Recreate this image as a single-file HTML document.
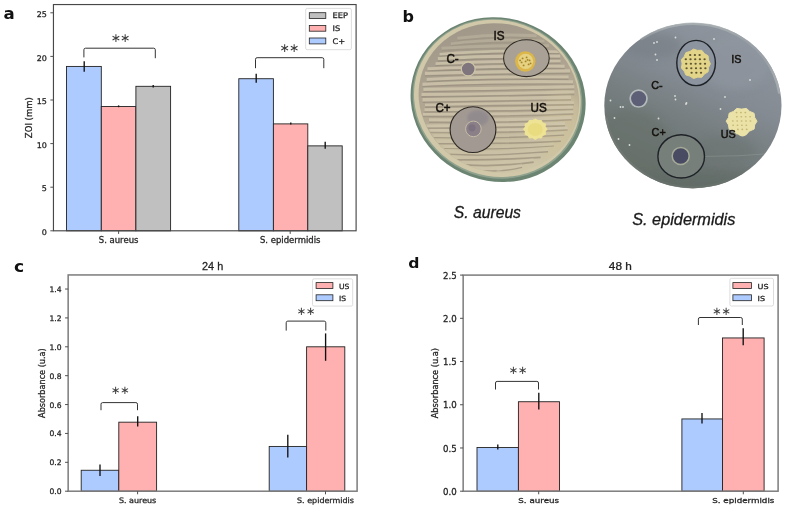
<!DOCTYPE html>
<html lang="en"><head><meta charset="utf-8"><title>Figure</title>
<style>
html,body{margin:0;padding:0;background:#fff;}
body{width:789px;height:512px;overflow:hidden;}
svg{display:block;}
.dv{font-family:"DejaVu Sans","Liberation Sans",sans-serif;fill:#262626;stroke:#262626;stroke-width:0.28px;}
.ls{font-family:"Liberation Sans","DejaVu Sans",sans-serif;fill:#222;stroke:#222;stroke-width:0.25px;}
.star{font-family:"DejaVu Sans","Liberation Sans",sans-serif;}
.pl{font-family:"DejaVu Sans","Liberation Sans",sans-serif;font-weight:bold;fill:#111;}
.dl{font-family:"Liberation Sans","DejaVu Sans",sans-serif;fill:#15120e;stroke:#15120e;stroke-width:0.5px;}
.it{font-family:"Liberation Sans","DejaVu Sans",sans-serif;font-style:italic;fill:#1a1a1a;stroke:#1a1a1a;stroke-width:0.3px;}
</style></head><body>
<svg width="789" height="512" viewBox="0 0 789 512">
<rect width="789" height="512" fill="#fff"/>

<rect x="66.50" y="66.43" width="34.80" height="164.37" fill="#aecbff" stroke="#222" stroke-width="0.9"/>
<rect x="101.30" y="106.45" width="34.60" height="124.35" fill="#ffb0b0" stroke="#222" stroke-width="0.9"/>
<rect x="135.90" y="86.31" width="34.70" height="144.49" fill="#c0c0c0" stroke="#222" stroke-width="0.9"/>
<rect x="238.80" y="78.72" width="34.60" height="152.08" fill="#aecbff" stroke="#222" stroke-width="0.9"/>
<rect x="273.40" y="123.89" width="34.40" height="106.91" fill="#ffb0b0" stroke="#222" stroke-width="0.9"/>
<rect x="307.80" y="145.87" width="34.40" height="84.93" fill="#c0c0c0" stroke="#222" stroke-width="0.9"/>
<line x1="84.20" x2="84.20" y1="61.20" y2="71.80" stroke="#111" stroke-width="1.35"/>
<line x1="118.60" x2="118.60" y1="105.40" y2="107.20" stroke="#111" stroke-width="1.35"/>
<line x1="153.20" x2="153.20" y1="85.00" y2="87.50" stroke="#111" stroke-width="1.35"/>
<line x1="256.20" x2="256.20" y1="73.70" y2="82.70" stroke="#111" stroke-width="1.35"/>
<line x1="290.80" x2="290.80" y1="122.60" y2="124.60" stroke="#111" stroke-width="1.35"/>
<line x1="325.20" x2="325.20" y1="141.80" y2="148.80" stroke="#111" stroke-width="1.35"/>
<rect x="53.45" y="4.55" width="302.65" height="226.25" fill="none" stroke="#484848" stroke-width="1.15"/>
<line x1="50.35" x2="53.45" y1="230.80" y2="230.80" stroke="#505050" stroke-width="1"/>
<text transform="translate(46.85,234.95) scale(1.03,1)" font-size="7.8" text-anchor="end" class="dv">0</text>
<line x1="50.35" x2="53.45" y1="187.20" y2="187.20" stroke="#505050" stroke-width="1"/>
<text transform="translate(46.85,191.35) scale(1.03,1)" font-size="7.8" text-anchor="end" class="dv">5</text>
<line x1="50.35" x2="53.45" y1="143.60" y2="143.60" stroke="#505050" stroke-width="1"/>
<text transform="translate(46.85,147.75) scale(1.03,1)" font-size="7.8" text-anchor="end" class="dv">10</text>
<line x1="50.35" x2="53.45" y1="100.00" y2="100.00" stroke="#505050" stroke-width="1"/>
<text transform="translate(46.85,104.15) scale(1.03,1)" font-size="7.8" text-anchor="end" class="dv">15</text>
<line x1="50.35" x2="53.45" y1="56.40" y2="56.40" stroke="#505050" stroke-width="1"/>
<text transform="translate(46.85,60.55) scale(1.03,1)" font-size="7.8" text-anchor="end" class="dv">20</text>
<line x1="50.35" x2="53.45" y1="12.80" y2="12.80" stroke="#505050" stroke-width="1"/>
<text transform="translate(46.85,16.95) scale(1.03,1)" font-size="7.8" text-anchor="end" class="dv">25</text>
<line x1="118.60" x2="118.60" y1="230.80" y2="233.90" stroke="#505050" stroke-width="1"/>
<text transform="translate(118.60,243.46) scale(1.075,1)" font-size="7.9" text-anchor="middle" class="dv">S. aureus</text>
<line x1="290.20" x2="290.20" y1="230.80" y2="233.90" stroke="#505050" stroke-width="1"/>
<text transform="translate(290.20,243.46) scale(1.075,1)" font-size="7.9" text-anchor="middle" class="dv">S. epidermidis</text>
<text transform="translate(31.60,117.68) rotate(-90) scale(1,1.0)" font-size="8.5" text-anchor="middle" class="dv">ZOI (mm)</text>
<path d="M83.90,57.40 V49.80 Q83.90,48.20 85.50,48.20 H153.70 Q155.30,48.20 155.30,49.80 V58.20" fill="none" stroke="#333" stroke-width="1"/>
<text x="115.75 125.05" y="41.95" font-size="12.4" text-anchor="middle" class="star" fill="#3c3c3c">∗∗</text>
<path d="M255.50,68.20 V59.30 Q255.50,57.70 257.10,57.70 H322.20 Q323.80,57.70 323.80,59.30 V68.20" fill="none" stroke="#333" stroke-width="1"/>
<text x="284.55 293.85" y="51.95" font-size="12.4" text-anchor="middle" class="star" fill="#3c3c3c">∗∗</text>
<rect x="305.70" y="8.40" width="45.70" height="41.30" rx="1.6" fill="#fff" fill-opacity="0.8" stroke="#d4d4d4" stroke-width="0.8"/>
<rect x="309.30" y="12.70" width="16.50" height="5.80" fill="#c0c0c0" stroke="#222" stroke-width="0.8"/>
<text transform="translate(332.60,18.41) scale(1.075,1)" font-size="7.7" class="dv">EEP</text>
<rect x="309.30" y="25.40" width="16.50" height="5.80" fill="#ffb0b0" stroke="#222" stroke-width="0.8"/>
<text transform="translate(332.60,31.11) scale(1.075,1)" font-size="7.7" class="dv">IS</text>
<rect x="309.30" y="38.00" width="16.50" height="5.90" fill="#aecbff" stroke="#222" stroke-width="0.8"/>
<text transform="translate(332.60,43.76) scale(1.075,1)" font-size="7.7" class="dv">C+</text>
<text x="3.6" y="19.4" font-size="16.6" class="pl">a</text>
<rect x="81.20" y="470.26" width="37.60" height="20.94" fill="#aecbff" stroke="#222" stroke-width="0.9"/>
<rect x="118.80" y="422.18" width="37.80" height="69.02" fill="#ffb0b0" stroke="#222" stroke-width="0.9"/>
<rect x="269.20" y="446.44" width="37.40" height="44.76" fill="#aecbff" stroke="#222" stroke-width="0.9"/>
<rect x="306.60" y="346.80" width="38.20" height="144.40" fill="#ffb0b0" stroke="#222" stroke-width="0.9"/>
<line x1="100.00" x2="100.00" y1="464.50" y2="475.90" stroke="#111" stroke-width="1.35"/>
<line x1="137.70" x2="137.70" y1="416.30" y2="426.40" stroke="#111" stroke-width="1.35"/>
<line x1="287.80" x2="287.80" y1="434.80" y2="457.40" stroke="#111" stroke-width="1.35"/>
<line x1="325.60" x2="325.60" y1="333.40" y2="360.80" stroke="#111" stroke-width="1.35"/>
<rect x="68.15" y="274.95" width="288.95" height="216.25" fill="none" stroke="#7c7c7c" stroke-width="1.5"/>
<line x1="65.05" x2="68.15" y1="491.20" y2="491.20" stroke="#505050" stroke-width="1"/>
<text x="61.55" y="494.17" font-size="7.6" text-anchor="end" class="dv">0.0</text>
<line x1="65.05" x2="68.15" y1="462.32" y2="462.32" stroke="#505050" stroke-width="1"/>
<text x="61.55" y="465.29" font-size="7.6" text-anchor="end" class="dv">0.2</text>
<line x1="65.05" x2="68.15" y1="433.44" y2="433.44" stroke="#505050" stroke-width="1"/>
<text x="61.55" y="436.41" font-size="7.6" text-anchor="end" class="dv">0.4</text>
<line x1="65.05" x2="68.15" y1="404.56" y2="404.56" stroke="#505050" stroke-width="1"/>
<text x="61.55" y="407.53" font-size="7.6" text-anchor="end" class="dv">0.6</text>
<line x1="65.05" x2="68.15" y1="375.68" y2="375.68" stroke="#505050" stroke-width="1"/>
<text x="61.55" y="378.65" font-size="7.6" text-anchor="end" class="dv">0.8</text>
<line x1="65.05" x2="68.15" y1="346.80" y2="346.80" stroke="#505050" stroke-width="1"/>
<text x="61.55" y="349.77" font-size="7.6" text-anchor="end" class="dv">1.0</text>
<line x1="65.05" x2="68.15" y1="317.92" y2="317.92" stroke="#505050" stroke-width="1"/>
<text x="61.55" y="320.89" font-size="7.6" text-anchor="end" class="dv">1.2</text>
<line x1="65.05" x2="68.15" y1="289.04" y2="289.04" stroke="#505050" stroke-width="1"/>
<text x="61.55" y="292.01" font-size="7.6" text-anchor="end" class="dv">1.4</text>
<line x1="137.60" x2="137.60" y1="491.20" y2="494.30" stroke="#505050" stroke-width="1"/>
<text transform="translate(137.60,503.49) scale(1.06,1)" font-size="7.55" text-anchor="middle" class="dv">S. aureus</text>
<line x1="325.50" x2="325.50" y1="491.20" y2="494.30" stroke="#505050" stroke-width="1"/>
<text transform="translate(325.50,503.49) scale(1.06,1)" font-size="7.55" text-anchor="middle" class="dv">S. epidermidis</text>
<text transform="translate(45.00,383.07) rotate(-90) scale(1,1.0)" font-size="8.15" text-anchor="middle" class="dv">Absorbance (u.a)</text>
<text transform="translate(212.60,270.00) scale(1.09,1)" font-size="10" text-anchor="middle" class="ls">24 h</text>
<path d="M101.00,410.20 V404.20 Q101.00,402.60 102.60,402.60 H135.90 Q137.50,402.60 137.50,404.20 V410.20" fill="none" stroke="#333" stroke-width="1"/>
<text x="115.75 125.05" y="394.29" font-size="11.6" text-anchor="middle" class="star" fill="#3c3c3c">∗∗</text>
<path d="M286.20,330.60 V322.70 Q286.20,321.10 287.80,321.10 H324.20 Q325.80,321.10 325.80,322.70 V330.60" fill="none" stroke="#333" stroke-width="1"/>
<text x="301.55 310.85" y="315.29" font-size="11.6" text-anchor="middle" class="star" fill="#3c3c3c">∗∗</text>
<rect x="312.50" y="278.80" width="40.20" height="27.30" rx="1.6" fill="#fff" fill-opacity="0.8" stroke="#d4d4d4" stroke-width="0.8"/>
<rect x="316.10" y="282.60" width="16.80" height="5.90" fill="#ffb0b0" stroke="#222" stroke-width="0.8"/>
<text transform="translate(339.00,288.78) scale(1.06,1)" font-size="7.2" class="dv">US</text>
<rect x="316.10" y="294.80" width="16.80" height="5.90" fill="#aecbff" stroke="#222" stroke-width="0.8"/>
<text transform="translate(339.00,300.98) scale(1.06,1)" font-size="7.2" class="dv">IS</text>
<text transform="translate(14.00,271.60) scale(1.08,1)" font-size="15.9" class="pl">c</text>
<rect x="477.00" y="447.46" width="41.40" height="43.74" fill="#aecbff" stroke="#222" stroke-width="0.9"/>
<rect x="518.40" y="401.73" width="41.10" height="89.47" fill="#ffb0b0" stroke="#222" stroke-width="0.9"/>
<rect x="681.90" y="418.94" width="40.60" height="72.26" fill="#aecbff" stroke="#222" stroke-width="0.9"/>
<rect x="722.50" y="337.94" width="41.60" height="153.26" fill="#ffb0b0" stroke="#222" stroke-width="0.9"/>
<line x1="497.80" x2="497.80" y1="444.40" y2="449.50" stroke="#111" stroke-width="1.35"/>
<line x1="538.80" x2="538.80" y1="392.70" y2="409.40" stroke="#111" stroke-width="1.35"/>
<line x1="702.00" x2="702.00" y1="413.00" y2="423.40" stroke="#111" stroke-width="1.35"/>
<line x1="743.20" x2="743.20" y1="328.30" y2="345.30" stroke="#111" stroke-width="1.35"/>
<rect x="463.15" y="275.10" width="314.95" height="216.10" fill="none" stroke="#7c7c7c" stroke-width="1.5"/>
<line x1="460.05" x2="463.15" y1="491.20" y2="491.20" stroke="#505050" stroke-width="1"/>
<text transform="translate(456.75,494.78) scale(1.09,1)" font-size="7.9" text-anchor="end" class="dv">0.0</text>
<line x1="460.05" x2="463.15" y1="447.98" y2="447.98" stroke="#505050" stroke-width="1"/>
<text transform="translate(456.75,451.56) scale(1.09,1)" font-size="7.9" text-anchor="end" class="dv">0.5</text>
<line x1="460.05" x2="463.15" y1="404.76" y2="404.76" stroke="#505050" stroke-width="1"/>
<text transform="translate(456.75,408.34) scale(1.09,1)" font-size="7.9" text-anchor="end" class="dv">1.0</text>
<line x1="460.05" x2="463.15" y1="361.54" y2="361.54" stroke="#505050" stroke-width="1"/>
<text transform="translate(456.75,365.12) scale(1.09,1)" font-size="7.9" text-anchor="end" class="dv">1.5</text>
<line x1="460.05" x2="463.15" y1="318.32" y2="318.32" stroke="#505050" stroke-width="1"/>
<text transform="translate(456.75,321.90) scale(1.09,1)" font-size="7.9" text-anchor="end" class="dv">2.0</text>
<line x1="460.05" x2="463.15" y1="275.10" y2="275.10" stroke="#505050" stroke-width="1"/>
<text transform="translate(456.75,278.68) scale(1.09,1)" font-size="7.9" text-anchor="end" class="dv">2.5</text>
<line x1="538.70" x2="538.70" y1="491.20" y2="494.30" stroke="#505050" stroke-width="1"/>
<text transform="translate(538.70,503.25) scale(1.165,1)" font-size="7.5" text-anchor="middle" class="dv">S. aureus</text>
<line x1="743.30" x2="743.30" y1="491.20" y2="494.30" stroke="#505050" stroke-width="1"/>
<text transform="translate(743.30,503.25) scale(1.165,1)" font-size="7.5" text-anchor="middle" class="dv">S. epidermidis</text>
<text transform="translate(437.60,383.15) rotate(-90) scale(1,1.09)" font-size="8.2" text-anchor="middle" class="dv">Absorbance (u.a)</text>
<text transform="translate(620.30,269.80) scale(1.18,1)" font-size="10" text-anchor="middle" class="ls">48 h</text>
<path d="M495.50,389.50 V383.00 Q495.50,381.40 497.10,381.40 H536.90 Q538.50,381.40 538.50,383.00 V389.50" fill="none" stroke="#333" stroke-width="1"/>
<text x="513.65 522.95" y="374.29" font-size="11.6" text-anchor="middle" class="star" fill="#3c3c3c">∗∗</text>
<path d="M698.40,325.00 V319.10 Q698.40,317.50 700.00,317.50 H740.70 Q742.30,317.50 742.30,319.10 V325.00" fill="none" stroke="#333" stroke-width="1"/>
<text x="717.15 726.45" y="315.29" font-size="11.6" text-anchor="middle" class="star" fill="#3c3c3c">∗∗</text>
<rect x="729.90" y="278.30" width="43.60" height="27.70" rx="1.6" fill="#fff" fill-opacity="0.8" stroke="#d4d4d4" stroke-width="0.8"/>
<rect x="732.90" y="282.60" width="18.50" height="5.90" fill="#ffb0b0" stroke="#222" stroke-width="0.8"/>
<text transform="translate(757.50,288.69) scale(1.165,1)" font-size="6.95" class="dv">US</text>
<rect x="732.90" y="294.80" width="18.50" height="5.90" fill="#aecbff" stroke="#222" stroke-width="0.8"/>
<text transform="translate(757.50,300.89) scale(1.165,1)" font-size="6.95" class="dv">IS</text>
<text transform="translate(408.20,268.10) scale(1.05,1)" font-size="14.9" class="pl">d</text>
<text x="402.6" y="21.5" font-size="16" class="pl">b</text>
<defs>
<filter id="b1" x="-10%" y="-10%" width="120%" height="120%"><feGaussianBlur stdDeviation="0.6"/></filter>
<filter id="b2" x="-20%" y="-20%" width="140%" height="140%"><feGaussianBlur stdDeviation="1.4"/></filter>
<filter id="b4" x="-30%" y="-30%" width="160%" height="160%"><feGaussianBlur stdDeviation="4"/></filter>
<clipPath id="clipL"><ellipse cx="498.3" cy="98" rx="80.4" ry="73.6" transform="rotate(20 498.1 99.6)"/></clipPath>
<clipPath id="clipR"><ellipse cx="692.9" cy="105.6" rx="88.6" ry="82.6"/></clipPath>
<linearGradient id="gL" gradientUnits="userSpaceOnUse" x1="480" y1="25" x2="515" y2="174" gradientTransform="rotate(-20 498.1 99.6)">
 <stop offset="0" stop-color="#a1988a"/><stop offset="0.3" stop-color="#aba18f"/><stop offset="0.6" stop-color="#b7ac95"/><stop offset="0.8" stop-color="#c5bb9e"/><stop offset="1" stop-color="#cfc6a8"/>
</linearGradient>
<linearGradient id="gR" x1="0.78" y1="0.02" x2="0.3" y2="1">
 <stop offset="0" stop-color="#8f969f"/><stop offset="0.38" stop-color="#848b93"/><stop offset="0.62" stop-color="#757d7e"/><stop offset="1" stop-color="#636b67"/>
</linearGradient>
</defs>
<g filter="url(#b1)">
<ellipse cx="498.1" cy="99.6" rx="88.3" ry="81.6" transform="rotate(20 498.1 99.6)" fill="#6c8573"/>
<ellipse cx="497.20000000000005" cy="99.0" rx="85.5" ry="79.2" transform="rotate(20 498.1 99.6)" fill="#8fa28e"/>
<ellipse cx="497.0" cy="98.69999999999999" rx="84.1" ry="77.8" transform="rotate(20 498.1 99.6)" fill="#d0c8a8"/>
<ellipse cx="498.3" cy="98.0" rx="81" ry="74.2" transform="rotate(20 498.1 99.6)" fill="url(#gL)"/>
</g>
<g clip-path="url(#clipL)">
<ellipse cx="562" cy="128" rx="22" ry="40" fill="#d0c49c" opacity="0.55" filter="url(#b4)"/>
<ellipse cx="440" cy="150" rx="20" ry="26" fill="#d2c9a8" opacity="0.5" filter="url(#b4)"/>
</g>
<g clip-path="url(#clipL)" filter="url(#b1)">
<path d="M457.4,38.3 Q497.2,33.4 536.6,35.8" stroke="#cfc5ad" stroke-opacity="0.35" stroke-width="3.07" fill="none"/>
<path d="M457.4,40.6 Q497.2,35.7 536.6,38.1" stroke="#8f8675" stroke-opacity="0.25" stroke-width="1.31" fill="none"/>
<path d="M450.8,43.7 Q492.9,38.3 544.4,41.2" stroke="#cfc5ad" stroke-opacity="0.35" stroke-width="2.67" fill="none"/>
<path d="M450.8,46.0 Q492.9,40.6 544.4,43.5" stroke="#8f8675" stroke-opacity="0.25" stroke-width="1.69" fill="none"/>
<path d="M441.5,48.2 Q499.0,45.2 549.0,45.7" stroke="#cfc5ad" stroke-opacity="0.35" stroke-width="3.09" fill="none"/>
<path d="M441.5,50.5 Q499.0,47.5 549.0,48.0" stroke="#8f8675" stroke-opacity="0.25" stroke-width="1.29" fill="none"/>
<path d="M439.6,54.3 Q493.3,49.7 559.5,51.8" stroke="#cfc5ad" stroke-opacity="0.8" stroke-width="2.62" fill="none"/>
<path d="M439.6,56.5 Q493.3,51.8 559.5,54.0" stroke="#8f8675" stroke-opacity="0.5" stroke-width="1.48" fill="none"/>
<path d="M437.9,58.6 Q499.1,55.3 560.2,56.1" stroke="#cfc5ad" stroke-opacity="0.8" stroke-width="3.13" fill="none"/>
<path d="M437.9,61.0 Q499.1,57.7 560.2,58.5" stroke="#8f8675" stroke-opacity="0.5" stroke-width="1.47" fill="none"/>
<path d="M435.6,63.6 Q503.1,61.0 560.6,61.1" stroke="#cfc5ad" stroke-opacity="0.8" stroke-width="2.85" fill="none"/>
<path d="M435.6,65.7 Q503.1,63.2 560.6,63.2" stroke="#8f8675" stroke-opacity="0.5" stroke-width="1.34" fill="none"/>
<path d="M427.5,68.8 Q504.3,65.5 564.6,66.3" stroke="#cfc5ad" stroke-opacity="0.8" stroke-width="2.91" fill="none"/>
<path d="M427.5,71.3 Q504.3,68.0 564.6,68.8" stroke="#8f8675" stroke-opacity="0.5" stroke-width="1.77" fill="none"/>
<path d="M424.9,73.4 Q496.8,71.6 570.1,70.9" stroke="#cfc5ad" stroke-opacity="0.8" stroke-width="3.38" fill="none"/>
<path d="M424.9,75.9 Q496.8,74.1 570.1,73.4" stroke="#8f8675" stroke-opacity="0.5" stroke-width="1.44" fill="none"/>
<path d="M426.7,79.5 Q487.7,76.4 568.6,77.0" stroke="#cfc5ad" stroke-opacity="0.8" stroke-width="2.87" fill="none"/>
<path d="M426.7,81.9 Q487.7,78.9 568.6,79.4" stroke="#8f8675" stroke-opacity="0.5" stroke-width="1.78" fill="none"/>
<path d="M422.5,84.4 Q487.2,81.1 573.0,81.9" stroke="#cfc5ad" stroke-opacity="0.8" stroke-width="3.24" fill="none"/>
<path d="M422.5,86.7 Q487.2,83.5 573.0,84.2" stroke="#8f8675" stroke-opacity="0.5" stroke-width="1.31" fill="none"/>
<path d="M423.4,89.4 Q490.0,88.0 574.3,86.9" stroke="#cfc5ad" stroke-opacity="0.8" stroke-width="3.11" fill="none"/>
<path d="M423.4,91.7 Q490.0,90.2 574.3,89.2" stroke="#8f8675" stroke-opacity="0.5" stroke-width="1.27" fill="none"/>
<path d="M421.5,94.5 Q505.2,93.9 574.3,92.0" stroke="#cfc5ad" stroke-opacity="0.8" stroke-width="2.84" fill="none"/>
<path d="M421.5,96.8 Q505.2,96.3 574.3,94.3" stroke="#8f8675" stroke-opacity="0.5" stroke-width="1.73" fill="none"/>
<path d="M422.5,99.8 Q487.1,98.8 571.0,97.3" stroke="#cfc5ad" stroke-opacity="0.8" stroke-width="3.39" fill="none"/>
<path d="M422.5,102.3 Q487.1,101.2 571.0,99.8" stroke="#8f8675" stroke-opacity="0.5" stroke-width="1.33" fill="none"/>
<path d="M425.0,105.0 Q489.2,103.3 573.9,102.5" stroke="#cfc5ad" stroke-opacity="0.8" stroke-width="2.67" fill="none"/>
<path d="M425.0,107.2 Q489.2,105.5 573.9,104.7" stroke="#8f8675" stroke-opacity="0.5" stroke-width="1.55" fill="none"/>
<path d="M424.5,109.8 Q509.8,108.8 573.1,107.3" stroke="#cfc5ad" stroke-opacity="0.8" stroke-width="2.99" fill="none"/>
<path d="M424.5,112.1 Q509.8,111.1 573.1,109.6" stroke="#8f8675" stroke-opacity="0.5" stroke-width="1.54" fill="none"/>
<path d="M422.9,114.3 Q505.8,114.7 573.4,111.8" stroke="#cfc5ad" stroke-opacity="0.8" stroke-width="2.80" fill="none"/>
<path d="M422.9,116.5 Q505.8,116.8 573.4,114.0" stroke="#8f8675" stroke-opacity="0.5" stroke-width="1.31" fill="none"/>
<path d="M429.0,119.9 Q509.5,120.7 571.6,117.4" stroke="#cfc5ad" stroke-opacity="0.8" stroke-width="3.08" fill="none"/>
<path d="M429.0,122.3 Q509.5,123.0 571.6,119.8" stroke="#8f8675" stroke-opacity="0.5" stroke-width="1.45" fill="none"/>
<path d="M425.6,126.0 Q500.2,125.3 565.1,123.5" stroke="#cfc5ad" stroke-opacity="0.8" stroke-width="2.81" fill="none"/>
<path d="M425.6,128.3 Q500.2,127.7 565.1,125.8" stroke="#8f8675" stroke-opacity="0.5" stroke-width="1.69" fill="none"/>
<path d="M429.3,130.3 Q488.1,131.1 567.6,127.8" stroke="#cfc5ad" stroke-opacity="0.8" stroke-width="2.78" fill="none"/>
<path d="M429.3,132.6 Q488.1,133.4 567.6,130.1" stroke="#8f8675" stroke-opacity="0.5" stroke-width="1.54" fill="none"/>
<path d="M434.1,135.5 Q492.0,137.0 564.1,133.0" stroke="#cfc5ad" stroke-opacity="0.45" stroke-width="2.61" fill="none"/>
<path d="M434.1,137.6 Q492.0,139.1 564.1,135.1" stroke="#8f8675" stroke-opacity="0.6" stroke-width="1.36" fill="none"/>
<path d="M434.6,141.5 Q499.5,142.1 560.9,139.0" stroke="#cfc5ad" stroke-opacity="0.45" stroke-width="2.71" fill="none"/>
<path d="M434.6,143.7 Q499.5,144.2 560.9,141.2" stroke="#8f8675" stroke-opacity="0.6" stroke-width="1.42" fill="none"/>
<path d="M444.3,146.4 Q501.1,148.0 553.9,143.9" stroke="#cfc5ad" stroke-opacity="0.45" stroke-width="2.71" fill="none"/>
<path d="M444.3,148.5 Q501.1,150.1 553.9,146.0" stroke="#8f8675" stroke-opacity="0.6" stroke-width="1.22" fill="none"/>
<path d="M449.4,151.9 Q487.2,154.4 548.0,149.4" stroke="#cfc5ad" stroke-opacity="0.45" stroke-width="3.11" fill="none"/>
<path d="M449.4,154.3 Q487.2,156.8 548.0,151.8" stroke="#8f8675" stroke-opacity="0.6" stroke-width="1.49" fill="none"/>
<path d="M451.4,157.2 Q497.2,157.9 540.7,154.7" stroke="#cfc5ad" stroke-opacity="0.45" stroke-width="3.19" fill="none"/>
<path d="M451.4,159.8 Q497.2,160.4 540.7,157.3" stroke="#8f8675" stroke-opacity="0.6" stroke-width="1.74" fill="none"/>
<path d="M462.0,162.0 Q494.3,165.0 533.7,159.5" stroke="#cfc5ad" stroke-opacity="0.45" stroke-width="3.15" fill="none"/>
<path d="M462.0,164.6 Q494.3,167.5 533.7,162.1" stroke="#8f8675" stroke-opacity="0.6" stroke-width="1.74" fill="none"/>
<path d="M471.8,167.6 Q498.7,170.7 522.1,165.1" stroke="#cfc5ad" stroke-opacity="0.45" stroke-width="3.10" fill="none"/>
<path d="M471.8,169.9 Q498.7,173.1 522.1,167.4" stroke="#8f8675" stroke-opacity="0.6" stroke-width="1.43" fill="none"/>
<path d="M502.8,173.4 Q511.5,176.3 496.6,170.9" stroke="#cfc5ad" stroke-opacity="0.45" stroke-width="3.30" fill="none"/>
<path d="M502.8,176.0 Q511.5,178.9 496.6,173.5" stroke="#8f8675" stroke-opacity="0.6" stroke-width="1.64" fill="none"/>
</g>
<g filter="url(#b1)">
<ellipse cx="526.4" cy="58.2" rx="22.8" ry="18.4" fill="#a9a196" stroke="#2e2a24" stroke-width="1.05"/>
<circle cx="473" cy="129.6" r="22.9" fill="#a29a92" stroke="#2e2a24" stroke-width="1.15"/>
<ellipse cx="478" cy="118" rx="11" ry="8" fill="#86808c" opacity="0.55" filter="url(#b2)"/>
<circle cx="473.4" cy="128.9" r="7.8" fill="#8b8088" stroke="#cbc1aa" stroke-width="0.9"/>
<circle cx="472" cy="127.8" r="3.6" fill="#776d7e" opacity="0.7" filter="url(#b1)"/>
<circle cx="468.2" cy="69" r="6.9" fill="#7f767d" stroke="#d0c6a8" stroke-width="1.2"/>
<circle cx="525.3" cy="61.5" r="10.2" fill="#dcb64a"/>
<circle cx="525.6" cy="61.3" r="7.6" fill="#e6d283"/>
<circle cx="522.6" cy="58.4" r="0.95" fill="#a58428"/>
<circle cx="526.6" cy="57.4" r="0.95" fill="#a58428"/>
<circle cx="529.6" cy="60.4" r="0.95" fill="#a58428"/>
<circle cx="521.6" cy="62.4" r="0.95" fill="#a58428"/>
<circle cx="525.6" cy="61.4" r="0.95" fill="#a58428"/>
<circle cx="528.6" cy="64.4" r="0.95" fill="#a58428"/>
<circle cx="523.6" cy="65.4" r="0.95" fill="#a58428"/>
<circle cx="530.6" cy="63.4" r="0.95" fill="#a58428"/>
<circle cx="520.1" cy="60.4" r="0.95" fill="#a58428"/>
<circle cx="527.6" cy="59.9" r="0.95" fill="#a58428"/>
<polygon points="547.6,129.2 545.7,131.6 546.0,134.6 542.9,135.9 541.5,138.5 538.1,138.3 535.3,140.0 532.5,138.3 529.1,138.5 527.7,135.9 524.6,134.6 524.9,131.6 523.0,129.2 524.9,126.8 524.6,123.8 527.7,122.5 529.1,119.9 532.5,120.1 535.3,118.4 538.1,120.1 541.5,119.9 542.9,122.5 546.0,123.8 545.7,126.8" fill="#eee394"/>
<ellipse cx="535.3" cy="129.4" rx="7.5" ry="6.5" fill="#e9dc80"/>
</g>
<text transform="translate(493.60,40.20) scale(0.95,1)" font-size="12.3" class="dl">IS</text>
<text transform="translate(446.40,62.80) scale(0.95,1)" font-size="12.3" class="dl">C-</text>
<text transform="translate(435.40,111.60) scale(0.95,1)" font-size="12.3" class="dl">C+</text>
<text transform="translate(530.60,111.60) scale(0.95,1)" font-size="12.3" class="dl">US</text>
<text x="487.4" y="217.9" font-size="15.7" text-anchor="middle" class="it">S. aureus</text>
<g filter="url(#b1)">
<ellipse cx="692.9" cy="105.6" rx="88.6" ry="82.6" fill="url(#gR)"/>
<path d="M640.9,39.6 A87.6 81.6 0 0 1 779.3,93.6" fill="none" stroke="#aeb4b6" stroke-width="2.4" opacity="0.75"/>
<path d="M606.3,117.6 A87.6 81.6 0 0 0 728.9,180.1" fill="none" stroke="#848b85" stroke-width="2.2" opacity="0.6"/>
</g>
<g clip-path="url(#clipR)">
<ellipse cx="632" cy="150" rx="40" ry="40" fill="#68716a" opacity="0.55" filter="url(#b4)"/>
<ellipse cx="705" cy="184" rx="72" ry="13" fill="#626c66" opacity="0.7" filter="url(#b4)"/>
<ellipse cx="735" cy="62" rx="36" ry="28" fill="#9097a0" opacity="0.6" filter="url(#b4)"/>
<ellipse cx="652" cy="46" rx="30" ry="13" fill="#747b82" opacity="0.5" filter="url(#b4)"/>
<ellipse cx="725" cy="150" rx="30" ry="14" fill="#6c7472" opacity="0.5" filter="url(#b4)"/>
<path d="M704,156.4 Q740,156.6 772,153.4" stroke="#99a19c" stroke-width="0.7" fill="none" opacity="0.6"/>
</g>
<g filter="url(#b1)">
<circle cx="654" cy="43" r="0.9" fill="#d9ddd8"/>
<circle cx="657" cy="42" r="0.9" fill="#d9ddd8"/>
<circle cx="655.5" cy="54.5" r="0.9" fill="#d9ddd8"/>
<circle cx="657" cy="60" r="0.9" fill="#d9ddd8"/>
<circle cx="675.5" cy="37.5" r="0.9" fill="#d9ddd8"/>
<circle cx="714" cy="39" r="0.9" fill="#d9ddd8"/>
<circle cx="610.5" cy="100.5" r="0.9" fill="#d9ddd8"/>
<circle cx="620.5" cy="107" r="0.9" fill="#d9ddd8"/>
<circle cx="623" cy="107" r="0.9" fill="#d9ddd8"/>
<circle cx="614.5" cy="118" r="0.9" fill="#d9ddd8"/>
<circle cx="675" cy="96" r="0.9" fill="#d9ddd8"/>
<circle cx="675.5" cy="99.5" r="0.9" fill="#d9ddd8"/>
<circle cx="686.5" cy="103" r="0.9" fill="#d9ddd8"/>
<circle cx="725" cy="97" r="0.9" fill="#d9ddd8"/>
<circle cx="720.5" cy="109" r="0.9" fill="#d9ddd8"/>
<circle cx="750" cy="80" r="0.9" fill="#d9ddd8"/>
<circle cx="658.5" cy="118.5" r="0.9" fill="#d9ddd8"/>
<circle cx="629.5" cy="145" r="0.9" fill="#d9ddd8"/>
<circle cx="618.5" cy="139" r="0.9" fill="#d9ddd8"/>
<circle cx="686" cy="104" r="0.9" fill="#d9ddd8"/>
<ellipse cx="696.1" cy="63" rx="19.3" ry="22.6" fill="#8c94a0" stroke="#1f2227" stroke-width="1.4"/>
<ellipse cx="681.2" cy="156.4" rx="23.3" ry="21.6" fill="#767f7a" stroke="#1f2227" stroke-width="1.4"/>
<circle cx="680.7" cy="155.9" r="8.5" fill="#484c62" stroke="#a6aa98" stroke-width="1.5"/>
<circle cx="638.6" cy="98.6" r="8.4" fill="#5b5f74" stroke="#b4babb" stroke-width="1.7"/>
<polygon points="710.4,63.8 708.5,67.6 708.1,71.8 704.4,74.0 701.8,77.3 697.5,77.2 693.5,78.5 690.0,76.1 685.9,75.0 684.2,71.1 681.4,68.0 682.1,63.8 681.4,59.6 684.2,56.5 685.9,52.6 690.0,51.5 693.5,49.1 697.5,50.4 701.8,50.3 704.4,53.6 708.1,55.8 708.5,60.0" fill="#e2d488" stroke="#e2d488" stroke-width="1" stroke-linejoin="round"/>
<polygon points="757.0,121.2 754.7,124.9 754.1,129.1 749.7,131.0 746.4,134.0 741.6,133.3 736.8,134.0 733.5,131.0 729.1,129.1 728.5,124.9 726.2,121.2 728.5,117.5 729.1,113.3 733.5,111.4 736.8,108.4 741.6,109.1 746.4,108.4 749.7,111.4 754.1,113.3 754.7,117.5" fill="#ebe2a8" stroke="#ebe2a8" stroke-width="1" stroke-linejoin="round"/>
<ellipse cx="742.5" cy="131.5" rx="5.5" ry="5" fill="#ebe2a8"/>
<ellipse cx="685.8" cy="59.3" rx="1.15" ry="0.98" fill="#5e5530"/>
<ellipse cx="686.2" cy="63.8" rx="1.15" ry="0.98" fill="#5e5530"/>
<ellipse cx="686.6" cy="68.3" rx="1.15" ry="0.98" fill="#5e5530"/>
<ellipse cx="690.2" cy="54.9" rx="1.15" ry="0.98" fill="#5e5530"/>
<ellipse cx="690.5" cy="59.3" rx="1.15" ry="0.98" fill="#5e5530"/>
<ellipse cx="690.9" cy="63.8" rx="1.15" ry="0.98" fill="#5e5530"/>
<ellipse cx="691.3" cy="68.3" rx="1.15" ry="0.98" fill="#5e5530"/>
<ellipse cx="691.6" cy="72.7" rx="1.15" ry="0.98" fill="#5e5530"/>
<ellipse cx="694.9" cy="54.9" rx="1.15" ry="0.98" fill="#5e5530"/>
<ellipse cx="695.2" cy="59.3" rx="1.15" ry="0.98" fill="#5e5530"/>
<ellipse cx="695.6" cy="63.8" rx="1.15" ry="0.98" fill="#5e5530"/>
<ellipse cx="696.0" cy="68.3" rx="1.15" ry="0.98" fill="#5e5530"/>
<ellipse cx="696.3" cy="72.7" rx="1.15" ry="0.98" fill="#5e5530"/>
<ellipse cx="699.6" cy="54.9" rx="1.15" ry="0.98" fill="#5e5530"/>
<ellipse cx="699.9" cy="59.3" rx="1.15" ry="0.98" fill="#5e5530"/>
<ellipse cx="700.3" cy="63.8" rx="1.15" ry="0.98" fill="#5e5530"/>
<ellipse cx="700.7" cy="68.3" rx="1.15" ry="0.98" fill="#5e5530"/>
<ellipse cx="701.0" cy="72.7" rx="1.15" ry="0.98" fill="#5e5530"/>
<ellipse cx="704.6" cy="59.3" rx="1.15" ry="0.98" fill="#5e5530"/>
<ellipse cx="705.0" cy="63.8" rx="1.15" ry="0.98" fill="#5e5530"/>
<ellipse cx="705.4" cy="68.3" rx="1.15" ry="0.98" fill="#5e5530"/>
<ellipse cx="732.8" cy="121.0" rx="0.95" ry="0.81" fill="#c4b672"/>
<ellipse cx="733.1" cy="125.2" rx="0.95" ry="0.81" fill="#c4b672"/>
<ellipse cx="736.5" cy="112.6" rx="0.95" ry="0.81" fill="#c4b672"/>
<ellipse cx="736.9" cy="116.8" rx="0.95" ry="0.81" fill="#c4b672"/>
<ellipse cx="737.2" cy="121.0" rx="0.95" ry="0.81" fill="#c4b672"/>
<ellipse cx="737.5" cy="125.2" rx="0.95" ry="0.81" fill="#c4b672"/>
<ellipse cx="737.9" cy="129.4" rx="0.95" ry="0.81" fill="#c4b672"/>
<ellipse cx="740.9" cy="112.6" rx="0.95" ry="0.81" fill="#c4b672"/>
<ellipse cx="741.3" cy="116.8" rx="0.95" ry="0.81" fill="#c4b672"/>
<ellipse cx="741.6" cy="121.0" rx="0.95" ry="0.81" fill="#c4b672"/>
<ellipse cx="741.9" cy="125.2" rx="0.95" ry="0.81" fill="#c4b672"/>
<ellipse cx="742.3" cy="129.4" rx="0.95" ry="0.81" fill="#c4b672"/>
<ellipse cx="745.3" cy="112.6" rx="0.95" ry="0.81" fill="#c4b672"/>
<ellipse cx="745.7" cy="116.8" rx="0.95" ry="0.81" fill="#c4b672"/>
<ellipse cx="746.0" cy="121.0" rx="0.95" ry="0.81" fill="#c4b672"/>
<ellipse cx="746.3" cy="125.2" rx="0.95" ry="0.81" fill="#c4b672"/>
<ellipse cx="746.7" cy="129.4" rx="0.95" ry="0.81" fill="#c4b672"/>
<ellipse cx="750.1" cy="116.8" rx="0.95" ry="0.81" fill="#c4b672"/>
<ellipse cx="750.4" cy="121.0" rx="0.95" ry="0.81" fill="#c4b672"/>
</g>
<text transform="translate(731.20,62.50) scale(0.93,1)" font-size="11.6" class="dl">IS</text>
<text transform="translate(651.20,89.10) scale(0.93,1)" font-size="11.6" class="dl">C-</text>
<text transform="translate(651.60,135.80) scale(0.93,1)" font-size="11.6" class="dl">C+</text>
<text transform="translate(720.80,138.40) scale(0.93,1)" font-size="11.6" class="dl">US</text>
<text x="683.8" y="225.2" font-size="16.3" text-anchor="middle" class="it">S. epidermidis</text>
</svg></body></html>
